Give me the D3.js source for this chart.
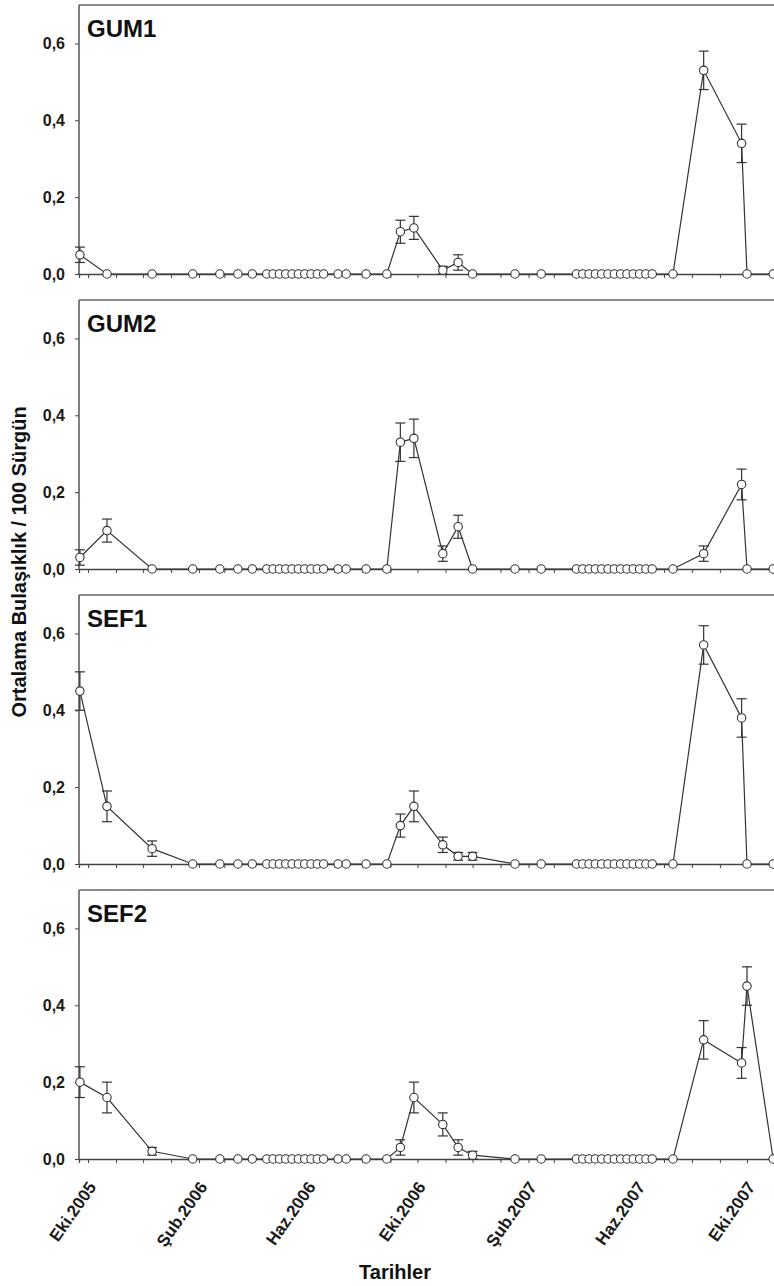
<!DOCTYPE html>
<html>
<head>
<meta charset="utf-8">
<script src="https://cdn.jsdelivr.net/npm/d3@7"></script>
<style>
  body { margin: 0; background: #fff; }
  svg { display: block; font-family: "Liberation Sans", Arial, sans-serif; }
</style>
</head>
<body>
<svg id="chart"></svg>
<script>
// sampling dates (same for every site)
const dates = [
  "2005-09-22", "2005-10-22", "2005-12-11", "2006-01-25", "2006-02-24", "2006-03-16", "2006-04-01",
  "2006-04-17", "2006-04-24", "2006-05-01", "2006-05-08", "2006-05-15", "2006-05-22", "2006-05-29", "2006-06-05", "2006-06-12", "2006-06-19",
  "2006-07-05", "2006-07-14", "2006-08-05", "2006-08-28",
  "2006-09-12", "2006-09-27", "2006-10-29", "2006-11-15", "2006-12-01",
  "2007-01-17", "2007-02-15",
  "2007-03-26", "2007-04-02", "2007-04-09", "2007-04-16", "2007-04-23", "2007-04-30", "2007-05-07", "2007-05-14", "2007-05-21", "2007-05-28", "2007-06-04", "2007-06-11", "2007-06-18",
  "2007-07-11", "2007-08-14", "2007-09-25", "2007-10-01", "2007-10-30"
];

const panels = ["GUM1", "GUM2", "SEF1", "SEF2"];

const gum1 = [0.05, 0, 0, 0, 0, 0, 0,
  0, 0, 0, 0, 0, 0, 0, 0, 0, 0,
  0, 0, 0, 0,
  0.11, 0.12, 0.01, 0.03, 0,
  0, 0,
  0, 0, 0, 0, 0, 0, 0, 0, 0, 0, 0, 0, 0,
  0, 0.53, 0.34, 0, 0];
const gum1Err = [0.02, 0, 0, 0, 0, 0, 0,
  0, 0, 0, 0, 0, 0, 0, 0, 0, 0,
  0, 0, 0, 0,
  0.03, 0.03, 0.01, 0.02, 0,
  0, 0,
  0, 0, 0, 0, 0, 0, 0, 0, 0, 0, 0, 0, 0,
  0, 0.05, 0.05, 0, 0];

const gum2 = [0.03, 0.10, 0, 0, 0, 0, 0,
  0, 0, 0, 0, 0, 0, 0, 0, 0, 0,
  0, 0, 0, 0,
  0.33, 0.34, 0.04, 0.11, 0,
  0, 0,
  0, 0, 0, 0, 0, 0, 0, 0, 0, 0, 0, 0, 0,
  0, 0.04, 0.22, 0, 0];
const gum2Err = [0.02, 0.03, 0, 0, 0, 0, 0,
  0, 0, 0, 0, 0, 0, 0, 0, 0, 0,
  0, 0, 0, 0,
  0.05, 0.05, 0.02, 0.03, 0,
  0, 0,
  0, 0, 0, 0, 0, 0, 0, 0, 0, 0, 0, 0, 0,
  0, 0.02, 0.04, 0, 0];

const sef1 = [0.45, 0.15, 0.04, 0, 0, 0, 0,
  0, 0, 0, 0, 0, 0, 0, 0, 0, 0,
  0, 0, 0, 0,
  0.10, 0.15, 0.05, 0.02, 0.02,
  0, 0,
  0, 0, 0, 0, 0, 0, 0, 0, 0, 0, 0, 0, 0,
  0, 0.57, 0.38, 0, 0];
const sef1Err = [0.05, 0.04, 0.02, 0, 0, 0, 0,
  0, 0, 0, 0, 0, 0, 0, 0, 0, 0,
  0, 0, 0, 0,
  0.03, 0.04, 0.02, 0.01, 0.01,
  0, 0,
  0, 0, 0, 0, 0, 0, 0, 0, 0, 0, 0, 0, 0,
  0, 0.05, 0.05, 0, 0];

const sef2 = [0.20, 0.16, 0.02, 0, 0, 0, 0,
  0, 0, 0, 0, 0, 0, 0, 0, 0, 0,
  0, 0, 0, 0,
  0.03, 0.16, 0.09, 0.03, 0.01,
  0, 0,
  0, 0, 0, 0, 0, 0, 0, 0, 0, 0, 0, 0, 0,
  0, 0.31, 0.25, 0.45, 0];
const sef2Err = [0.04, 0.04, 0.01, 0, 0, 0, 0,
  0, 0, 0, 0, 0, 0, 0, 0, 0, 0,
  0, 0, 0, 0,
  0.02, 0.04, 0.03, 0.02, 0.01,
  0, 0,
  0, 0, 0, 0, 0, 0, 0, 0, 0, 0, 0, 0, 0,
  0, 0.05, 0.04, 0.05, 0];

const yTicks = [0, 0.2, 0.4, 0.6];
const xTickDates = ["2005-10-01", "2006-02-01", "2006-06-01", "2006-10-01", "2007-02-01", "2007-06-01", "2007-10-01"];
const xTickLabels = ["Eki.2005", "Şub.2006", "Haz.2006", "Eki.2006", "Şub.2007", "Haz.2007", "Eki.2007"];

const series = [
  { name: panels[0], values: gum1, errs: gum1Err },
  { name: panels[1], values: gum2, errs: gum2Err },
  { name: panels[2], values: sef1, errs: sef1Err },
  { name: panels[3], values: sef2, errs: sef2Err }
];

const width = 774;
const height = 1286;
const left = 79;
const panelTop = 5;
const panelStep = 295;
const panelH = 269;

const parse = d3.utcParse("%Y-%m-%d");

const svg = d3.select("#chart")
  .attr("width", width)
  .attr("height", height);

svg.append("rect").attr("width", width).attr("height", height).attr("fill", "#fff");

// time scale: 0.9027 px per day, right end runs off the picture like the original
const x = d3.scaleUtc()
  .domain([parse("2005-09-21"), parse("2007-11-15")])
  .range([left, left + 785 * 0.9027]);

const y = d3.scaleLinear()
  .domain([0, 0.7])
  .range([panelH, 0]);

const line = d3.line()
  .x(d => x(d.date))
  .y(d => y(d.value));

series.forEach((s, p) => {
  const g = svg.append("g")
    .attr("transform", `translate(0, ${panelTop + p * panelStep})`);

  const pts = dates.map((d, i) => ({ date: parse(d), value: s.values[i], err: s.errs[i] }));

  // frame: top and left
  g.append("line")
    .attr("x1", left).attr("x2", width + 20)
    .attr("y1", 0).attr("y2", 0)
    .attr("stroke", "#666").attr("stroke-width", 1.5);

  // y axis
  const yAxis = g.append("g")
    .attr("transform", `translate(${left}, 0)`)
    .call(d3.axisLeft(y).tickValues(yTicks).tickSize(4).tickPadding(10)
      .tickFormat(d => d3.format(".1f")(d).replace(".", ",")));
  yAxis.select(".domain").remove();
  yAxis.append("line")
    .attr("y1", 0).attr("y2", panelH)
    .attr("stroke", "#555").attr("stroke-width", 1.5);
  yAxis.selectAll(".tick line").attr("stroke", "#444");
  yAxis.selectAll(".tick text")
    .attr("fill", "#1a1a1a")
    .attr("font-size", 16)
    .attr("font-weight", "bold")
    .attr("font-family", "Liberation Sans, Arial, sans-serif");

  // x axis with monthly ticks
  const xAxis = g.append("g")
    .attr("transform", `translate(0, ${panelH})`)
    .call(d3.axisBottom(x).ticks(d3.utcMonth.every(1)).tickSize(4).tickFormat(""));
  xAxis.select(".domain").attr("stroke", "#444").attr("stroke-width", 1.3);
  xAxis.selectAll(".tick line").attr("stroke", "#444");

  // panel title
  g.append("text")
    .attr("x", 87)
    .attr("y", 32)
    .attr("font-size", 24)
    .attr("font-weight", "bold")
    .attr("fill", "#111")
    .text(s.name);

  // series line
  g.append("path")
    .datum(pts)
    .attr("fill", "none")
    .attr("stroke", "#333")
    .attr("stroke-width", 1.2)
    .attr("d", line);

  // error bars
  const eb = g.selectAll(".err")
    .data(pts.filter(d => d.err > 0))
    .enter()
    .append("g")
    .attr("stroke", "#333")
    .attr("stroke-width", 1.2);
  eb.append("line")
    .attr("x1", d => x(d.date)).attr("x2", d => x(d.date))
    .attr("y1", d => y(d.value - d.err)).attr("y2", d => y(d.value + d.err));
  eb.append("line")
    .attr("x1", d => x(d.date) - 5).attr("x2", d => x(d.date) + 5)
    .attr("y1", d => y(d.value + d.err)).attr("y2", d => y(d.value + d.err));
  eb.append("line")
    .attr("x1", d => x(d.date) - 5).attr("x2", d => x(d.date) + 5)
    .attr("y1", d => y(d.value - d.err)).attr("y2", d => y(d.value - d.err));

  // markers
  g.selectAll("circle")
    .data(pts)
    .enter()
    .append("circle")
    .attr("cx", d => x(d.date))
    .attr("cy", d => y(d.value))
    .attr("r", 4.2)
    .attr("fill", "#fff")
    .attr("stroke", "#333")
    .attr("stroke-width", 1.1);

  // date labels only under the last panel
  if (p === series.length - 1) {
    g.selectAll(".xlab")
      .data(xTickDates)
      .enter()
      .append("text")
      .attr("class", "xlab")
      .attr("transform", d => `translate(${x(parse(d)) + 9}, ${panelH + 28}) rotate(-55)`)
      .attr("text-anchor", "end")
      .attr("font-size", 17)
      .attr("font-weight", "bold")
      .attr("fill", "#1a1a1a")
      .text((d, i) => xTickLabels[i]);
  }
});

// axis titles
svg.append("text")
  .attr("transform", "translate(26, 562) rotate(-90)")
  .attr("text-anchor", "middle")
  .attr("font-size", 20)
  .attr("font-weight", "bold")
  .attr("fill", "#111")
  .text("Ortalama Bulaşıklık / 100 Sürgün");

svg.append("text")
  .attr("x", 395)
  .attr("y", 1279)
  .attr("text-anchor", "middle")
  .attr("font-size", 20)
  .attr("font-weight", "bold")
  .attr("fill", "#111")
  .text("Tarihler");
</script>
</body>
</html>
